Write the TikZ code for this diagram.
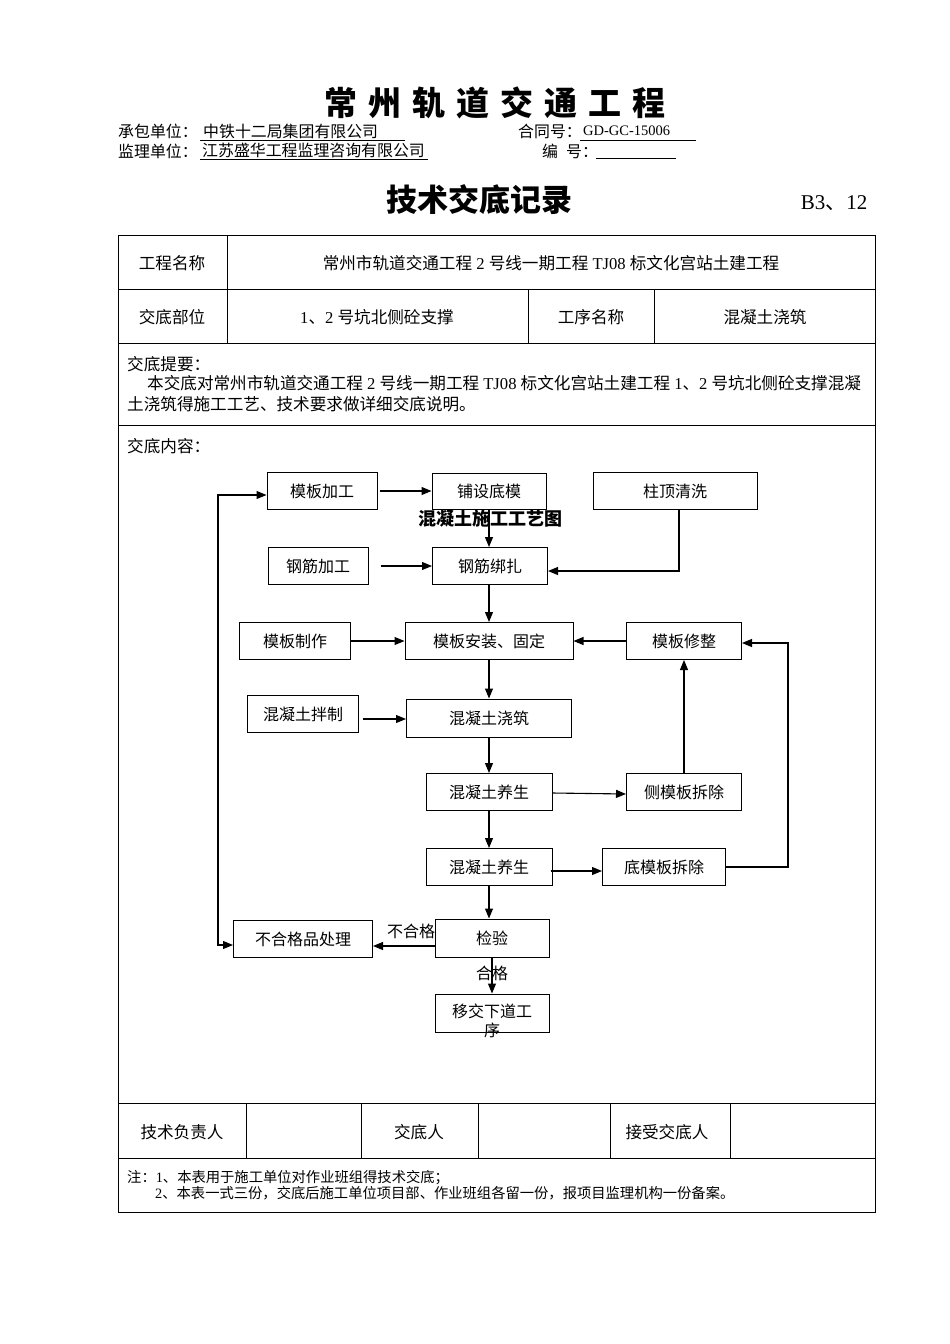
\documentclass[tikz,border=0pt]{standalone}
\usepackage{fontspec}
\setmainfont{Liberation Serif}
\newfontfamily\cjk{Noto Sans CJK SC}
\usetikzlibrary{arrows.meta,calc}
\begin{document}
\begin{tikzpicture}[x=1pt,y=-1pt,
  fbox/.style={draw, line width=1pt, inner sep=0pt, minimum height=37pt, font=\cjk\fontsize{16}{19}\selectfont},
  arr/.style={line width=1.1pt, -{Triangle[length=10pt,width=8pt]}},
  arrb/.style={line width=1.1pt, {Triangle[length=10pt,width=8pt]}-{Triangle[length=10pt,width=8pt]}},
  tline/.style={line width=1pt},
  ttxt/.style={font=\cjk\fontsize{16.6}{19}\selectfont, inner sep=0pt},
  htxt/.style={font=\cjk\fontsize{15.9}{18}\selectfont, inner sep=0pt, anchor=west},
  ntxt/.style={font=\cjk\fontsize{14.3}{16}\selectfont, inner sep=0pt, anchor=west},
  lbl/.style={font=\cjk\fontsize{16}{19}\selectfont, inner sep=0pt}
]
\useasboundingbox (0,0) rectangle (950,1344);
\fill[white] (0,0) rectangle (950,1344);

% ---------- header ----------
\node[font=\cjk\bfseries\fontsize{33}{36}\selectfont, inner sep=0pt] (title) at (495,103)
  {常\hspace{11pt}州\hspace{11pt}轨\hspace{11pt}道\hspace{11pt}交\hspace{11pt}通\hspace{11pt}工\hspace{11pt}程};
\node[htxt] (cb) at (118,131) {承包单位：};
\node[htxt] (cbv) at (203,131) {中铁十二局集团有限公司};
\draw[line width=0.8pt] (200,140) -- (405,140);
\node[htxt] (ht) at (518,131) {合同号：};
\node[htxt, font=\fontsize{14.5}{16}\selectfont] (htv) at (583,131) {GD-GC-15006};
\draw[line width=0.8pt] (580,140) -- (696,140);
\node[htxt] (jl) at (118,151) {监理单位：};
\node[htxt] (jlv) at (202,151) {江苏盛华工程监理咨询有限公司};
\draw[line width=0.8pt] (200,159) -- (428,159);
\node[htxt] (bh) at (542,151) {编\hspace{8pt}号：};
\draw[line width=0.8pt] (596,158) -- (676,158);

\node[font=\cjk\bfseries\fontsize{31}{34}\selectfont, inner sep=0pt] (sub) at (479,200) {技术交底记录};
\node[font=\fontsize{21}{24}\selectfont, inner sep=0pt] (code) at (834,203) {B3{\cjk 、}12};

% ---------- table ----------
\draw[tline] (118,235) rectangle (875,1212);
\foreach \yy in {289,343,425,1103,1158} \draw[tline] (118,\yy) -- (875,\yy);
\draw[tline] (227,235) -- (227,343);
\draw[tline] (528,289) -- (528,343);
\draw[tline] (654,289) -- (654,343);
\foreach \xx in {246,361,478,610,730} \draw[tline] (\xx,1103) -- (\xx,1158);

\node[ttxt] (t1) at (551,263) {常州市轨道交通工程{\rmfamily\ 2 }号线一期工程{\rmfamily\ TJ08 }标文化宫站土建工程};
\node[ttxt] (t1l) at (172,263) {工程名称};
\node[ttxt] (t2) at (172,317) {交底部位};
\node[ttxt] (t2v) at (377,317) {{\rmfamily 1}、{\rmfamily 2 }号坑北侧砼支撑};
\node[ttxt] (t3) at (591,317) {工序名称};
\node[ttxt] (t3v) at (765,317) {混凝土浇筑};

\node[ttxt, anchor=west] (p0) at (127,364) {交底提要：};
\node[ttxt, anchor=west] (p1) at (147,383) {本交底对常州市轨道交通工程{\rmfamily\ 2 }号线一期工程{\rmfamily\ TJ08 }标文化宫站土建工程{\rmfamily\ 1}、{\rmfamily 2 }号坑北侧砼支撑混凝};
\node[ttxt, anchor=west] (p2) at (127,404) {土浇筑得施工工艺、技术要求做详细交底说明。};
\node[ttxt, anchor=west] (p3) at (127,446) {交底内容：};

\node[ttxt] (s1) at (182,1132) {技术负责人};
\node[ttxt] (s2) at (419,1132) {交底人};
\node[ttxt] (s3) at (667,1132) {接受交底人};

\node[ntxt] (n1) at (127,1178) {注：{\rmfamily 1}、本表用于施工单位对作业班组得技术交底；};
\node[ntxt] (n2) at (155,1193) {{\rmfamily 2}、本表一式三份，交底后施工单位项目部、作业班组各留一份，报项目监理机构一份备案。};

% ---------- flowchart ----------
\node[fbox, minimum width=110pt] (mbjg) at (322,491) {模板加工};
\node[fbox, minimum width=114pt, minimum height=36pt] (pddm) at (489,491) {铺设底模};
\node[fbox, minimum width=164pt] (zdqx) at (675,491) {柱顶清洗};
\node[fbox, minimum width=100pt] (gjjg) at (318,566) {钢筋加工};
\node[fbox, minimum width=115pt] (gjbz) at (490,566) {钢筋绑扎};
\node[fbox, minimum width=111pt] (mbzz) at (295,641) {模板制作};
\node[fbox, minimum width=168pt] (mbaz) at (489,641) {模板安装、固定};
\node[fbox, minimum width=115pt] (mbxz) at (684,641) {模板修整};
\node[fbox, minimum width=111pt] (hnbz) at (303,714) {混凝土拌制};
\node[fbox, minimum width=165pt, minimum height=38pt] (hnjz) at (489,718) {混凝土浇筑};
\node[fbox, minimum width=126pt] (ys1) at (489,792) {混凝土养生};
\node[fbox, minimum width=115pt] (cmcc) at (684,792) {侧模板拆除};
\node[fbox, minimum width=126pt] (ys2) at (489,867) {混凝土养生};
\node[fbox, minimum width=123pt] (dmcc) at (664,867) {底模板拆除};
\node[fbox, minimum width=139pt] (ngp) at (303,939) {不合格品处理};
\node[fbox, minimum width=114pt, minimum height=38pt] (jy) at (492,938) {检验};
\node[fbox, minimum width=114pt, minimum height=38pt] (yj) at (492,1013) {};
\node[lbl, align=center, font=\cjk\fontsize{16}{19}\selectfont] (yjt) at (492,1021) {移交下道工\\序};

\node[font=\cjk\bfseries\fontsize{18}{21}\selectfont, inner sep=0pt] (ct) at (490,519) {混凝土施工工艺图};

\draw[arr] ($(mbjg.east)+(2,0)$) -- (pddm.west);
\draw[arr] (pddm.south) -- (pddm.south |- gjbz.north);
\draw[arr] ($(zdqx.south)+(4,0)$) |- ($(gjbz.east)+(0,5)$);
\draw[arr] ($(gjjg.east)+(12,0)$) -- (gjbz.west);
\draw[arr] (mbaz.north |- gjbz.south) -- (mbaz.north);
\draw[arr] (mbzz.east) -- (mbaz.west);
\draw[arr] (mbxz.west) -- (mbaz.east);
\draw[arr] (mbaz.south) -- (hnjz.north);
\draw[arr] ($(hnbz.east)+(4,5)$) -- ($(hnjz.west)+(0,1)$);
\draw[arr] (hnjz.south) -- (ys1.north);
\draw[arr] ($(ys1.east)+(0,1)$) -- ($(cmcc.west)+(0,2)$);
\draw[arr] (cmcc.north) -- (mbxz.south);
\draw[arr] (ys1.south) -- (ys2.north);
\draw[arr] ($(ys2.east)+(-2,4)$) -- ($(dmcc.west)+(0,4)$);
\draw[arr] (dmcc.east) -- ++(62,0) |- ($(mbxz.east)+(0,2)$);
\draw[arr] (ys2.south) -- (jy.north -| ys2.south);
\draw[arr] ($(jy.west)+(0,8)$) -- ($(ngp.east)+(0,7)$);
\draw[arr] (jy.south) -- (yj.north);
\draw[arrb] ($(ngp.west)+(0,6)$) -- ++(-15,0) |- ($(mbjg.west)+(0,4)$);

\node[lbl] (bhg) at (411,931) {不合格};
\node[lbl] (hg) at (492,973) {合格};
\end{tikzpicture}
\end{document}
